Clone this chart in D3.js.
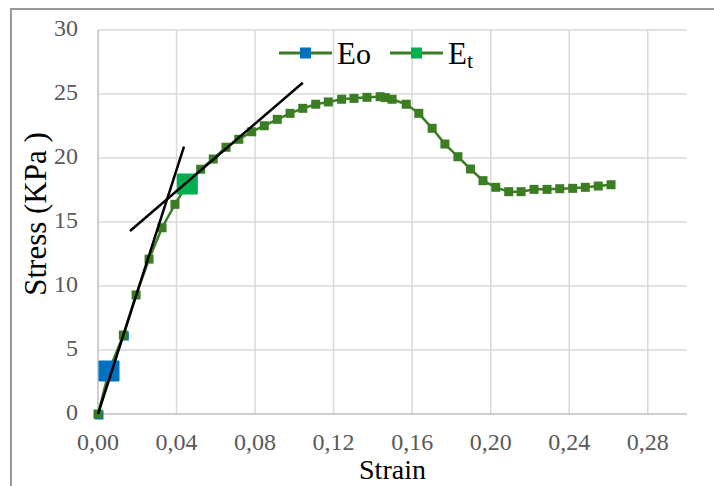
<!DOCTYPE html>
<html>
<head>
  <meta charset="utf-8">
  <title>Stress - strain</title>
  <script type="text/javascript" src="https://cdn.jsdelivr.net/npm/d3@7/dist/d3.min.js"></script>
  <style>
    body {
      margin: 0;
      background: #fff;
    }
  </style>
</head>
<body>
    <svg id="chart"></svg>
    <script>
        // data
        var strain = [0, 0.0056, 0.0129, 0.0194, 0.0260, 0.0326, 0.0392, 0.0455, 0.0523, 0.0587,
                      0.0652, 0.0717, 0.0783, 0.0847, 0.0913, 0.0978, 0.1043, 0.1109, 0.1173, 0.1241,
                      0.1304, 0.1370, 0.1437, 0.1463, 0.1498, 0.1570, 0.1634, 0.1702, 0.1767, 0.1833,
                      0.1897, 0.1961, 0.2026, 0.2092, 0.2155, 0.2221, 0.2287, 0.2352, 0.2418, 0.2482,
                      0.2548, 0.2613];
        var stress = [0, 3.36, 6.17, 9.30, 12.1, 14.55, 16.38, 17.97, 19.12, 19.92,
                      20.84, 21.46, 22.05, 22.52, 23.02, 23.49, 23.88, 24.20, 24.38, 24.59,
                      24.66, 24.74, 24.79, 24.72, 24.59, 24.20, 23.49, 22.32, 21.09, 20.10,
                      19.14, 18.23, 17.71, 17.37, 17.37, 17.55, 17.55, 17.60, 17.63, 17.71,
                      17.81, 17.91];

        // E0 and Et highlighted points
        var e0Strain = [0, 0.0056, 0.0129];
        var e0Stress = [0, 3.36, 6.17];
        var etPoint = [0.0455, 17.97];

        // tangent lines [x1, y1, x2, y2]
        var tangents = [
            [0, 0, 0.0438, 20.88],
            [0.0163, 14.3, 0.1043, 25.88]
        ];

        var xTicks = [0, 0.04, 0.08, 0.12, 0.16, 0.20, 0.24, 0.28];
        var yTicks = [0, 5, 10, 15, 20, 25, 30];

        var width = 714, height = 486;
        var plot = {left: 98, right: 687, top: 30, bottom: 414};

        var svg = d3.select("#chart")
            .attr("width", width)
            .attr("height", height)
            .attr("font-family", "'Liberation Serif', 'Times New Roman', serif");

        // outer chart border (runs off to the right and bottom)
        svg.append("rect")
            .attr("x", 11).attr("y", 9)
            .attr("width", 720).attr("height", 500)
            .attr("fill", "none")
            .attr("stroke", "#9a9a9a")
            .attr("stroke-width", 2);

        var x = d3.scaleLinear().domain([0, 0.30]).range([plot.left, plot.right]);
        var y = d3.scaleLinear().domain([0, 30]).range([plot.bottom, plot.top]);

        var fmt = function(d) { return d3.format(".2f")(d).replace(".", ","); };

        // grid
        svg.append("g")
            .selectAll("line")
            .data(yTicks.slice(1))
            .join("line")
            .attr("x1", plot.left).attr("x2", plot.right)
            .attr("y1", d => y(d)).attr("y2", d => y(d))
            .attr("stroke", "#d9d9d9").attr("stroke-width", 1.5);

        svg.append("g")
            .selectAll("line")
            .data(xTicks.slice(1))
            .join("line")
            .attr("x1", d => x(d)).attr("x2", d => x(d))
            .attr("y1", plot.top).attr("y2", plot.bottom)
            .attr("stroke", "#d9d9d9").attr("stroke-width", 1.5);

        // axes lines
        svg.append("line")
            .attr("x1", plot.left).attr("x2", plot.right)
            .attr("y1", plot.bottom).attr("y2", plot.bottom)
            .attr("stroke", "#bfbfbf").attr("stroke-width", 1.5);
        svg.append("line")
            .attr("x1", plot.left).attr("x2", plot.left)
            .attr("y1", plot.top).attr("y2", plot.bottom)
            .attr("stroke", "#bfbfbf").attr("stroke-width", 1.5);

        // tick labels
        svg.append("g")
            .selectAll("text")
            .data(yTicks)
            .join("text")
            .attr("x", 78)
            .attr("y", d => y(d) + 6)
            .attr("text-anchor", "end")
            .attr("font-size", 24)
            .attr("fill", "#595959")
            .text(d => d);

        svg.append("g")
            .selectAll("text")
            .data(xTicks)
            .join("text")
            .attr("x", d => x(d))
            .attr("y", plot.bottom + 36)
            .attr("text-anchor", "middle")
            .attr("font-size", 24)
            .attr("fill", "#595959")
            .text(fmt);

        // axis titles
        svg.append("text")
            .attr("x", (plot.left + plot.right) / 2)
            .attr("y", 479)
            .attr("text-anchor", "middle")
            .attr("font-size", 28)
            .attr("fill", "#000")
            .text("Strain");

        svg.append("text")
            .attr("transform", "translate(46,214) rotate(-90)")
            .attr("text-anchor", "middle")
            .attr("font-size", 31)
            .attr("fill", "#000")
            .text("Stress (KPa )");

        var seriesColor = "#3a7d23",
            e0Color = "#0070c0",
            etColor = "#00b050";

        // blue rim markers of E0 series under the main one
        svg.append("g")
            .selectAll("rect")
            .data(d3.range(e0Strain.length).filter(i => i != 1))
            .join("rect")
            .attr("x", i => x(e0Strain[i]) - 3.5)
            .attr("y", i => y(e0Stress[i]) - 3.5)
            .attr("width", 9).attr("height", 9)
            .attr("fill", e0Color);

        // main series
        var pts = d3.range(strain.length).map(i => [strain[i], stress[i]]);
        svg.append("path")
            .datum(pts)
            .attr("fill", "none")
            .attr("stroke", seriesColor)
            .attr("stroke-width", 2.5)
            .attr("d", d3.line().x(d => x(d[0])).y(d => y(d[1])));

        svg.append("g")
            .selectAll("rect")
            .data(pts)
            .join("rect")
            .attr("x", d => x(d[0]) - 4.5)
            .attr("y", d => y(d[1]) - 4.5)
            .attr("width", 9).attr("height", 9)
            .attr("fill", seriesColor);

        // big highlighted markers
        svg.append("rect")
            .attr("x", x(e0Strain[1]) - 10.5)
            .attr("y", y(e0Stress[1]) - 10.5)
            .attr("width", 21).attr("height", 21)
            .attr("rx", 1)
            .attr("fill", e0Color);
        svg.append("rect")
            .attr("x", x(etPoint[0]) - 10.5)
            .attr("y", y(etPoint[1]) - 10.5)
            .attr("width", 21).attr("height", 21)
            .attr("rx", 1)
            .attr("fill", etColor);

        // tangent lines
        svg.append("g")
            .selectAll("line")
            .data(tangents)
            .join("line")
            .attr("x1", d => x(d[0])).attr("y1", d => y(d[1]))
            .attr("x2", d => x(d[2])).attr("y2", d => y(d[3]))
            .attr("stroke", "#000")
            .attr("stroke-width", 2.5);

        // legend
        var legend = [
            {x: 279, color: e0Color, name: "E", sub: "o", subShift: 0, subSize: 30},
            {x: 390, color: etColor, name: "E", sub: "t", subShift: 4, subSize: 22}
        ];
        var lg = svg.append("g")
            .selectAll("g")
            .data(legend)
            .join("g")
            .attr("transform", d => "translate(" + d.x + ",53)");
        lg.append("line")
            .attr("x1", 0).attr("x2", 53)
            .attr("stroke", seriesColor).attr("stroke-width", 3);
        lg.append("rect")
            .attr("x", 21).attr("y", -5.5)
            .attr("width", 11).attr("height", 11)
            .attr("fill", d => d.color);
        var lt = lg.append("text")
            .attr("x", 58)
            .attr("y", 10.5)
            .attr("font-size", 31)
            .attr("fill", "#000");
        lt.append("tspan").text(d => d.name);
        lt.append("tspan")
            .attr("dy", d => d.subShift)
            .attr("font-size", d => d.subSize)
            .text(d => d.sub);
    </script>
</body>
</html>
